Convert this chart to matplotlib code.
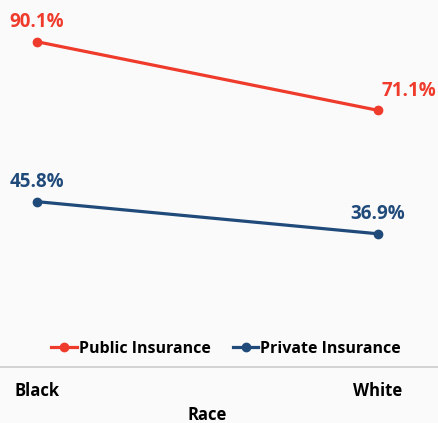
import matplotlib.pyplot as plt

races = ["Black", "White"]
public = [90.1, 71.1]
private = [45.8, 36.9]
public_labels = ["90.1%", "71.1%"]
private_labels = ["45.8%", "36.9%"]

red = "#EF3B2C"
blue = "#1F4A7A"
bg = "#FAFAFA"

plt.rcParams['font.family'] = ['Open Sans', 'DejaVu Sans']

fig = plt.figure(figsize=(4.38, 4.23), dpi=100, facecolor=bg)
ax = fig.add_axes([0, 56 / 423, 1, 361 / 423], facecolor=bg)

x = [0, 1]
ax.plot(x, public, color=red, lw=2.3, marker="o", ms=6, label="Public Insurance")
ax.plot(x, private, color=blue, lw=2.3, marker="o", ms=6, label="Private Insurance")

# value labels
offs_pub = [(0, 7), (22, 7)]
for xi, v, t, o in zip(x, public, public_labels, offs_pub):
    ax.annotate(t, (xi, v), xytext=o, textcoords="offset points",
                ha="center", va="bottom", color=red, fontsize=13.5, fontweight="bold")
for xi, v, t in zip(x, private, private_labels):
    ax.annotate(t, (xi, v), xytext=(0, 7), textcoords="offset points",
                ha="center", va="bottom", color=blue, fontsize=13.5, fontweight="bold")

ax.set_xlim(-37 / 341, 1 + 60 / 341)
ax.set_ylim(0, 100)
ax.set_xticks(x)
ax.set_xticklabels(races, fontsize=12, fontweight="bold")
ax.tick_params(axis="x", length=0, pad=11)
ax.set_yticks([])
ax.set_xlabel("Race", fontsize=12, fontweight="bold")
ax.xaxis.set_label_coords(207 / 438, -0.108)

for s in ["top", "left", "right"]:
    ax.spines[s].set_visible(False)
ax.spines["bottom"].set_color("#CCCCCC")
ax.spines["bottom"].set_linewidth(1.2)

leg = ax.legend(loc="lower center", bbox_to_anchor=(226 / 438, -0.012), ncol=2,
                frameon=False, handlelength=1.6, handletextpad=0.1,
                columnspacing=1.4, prop={"weight": "bold", "size": 11.5})

fig.savefig("out.png", dpi=100, facecolor=bg)
